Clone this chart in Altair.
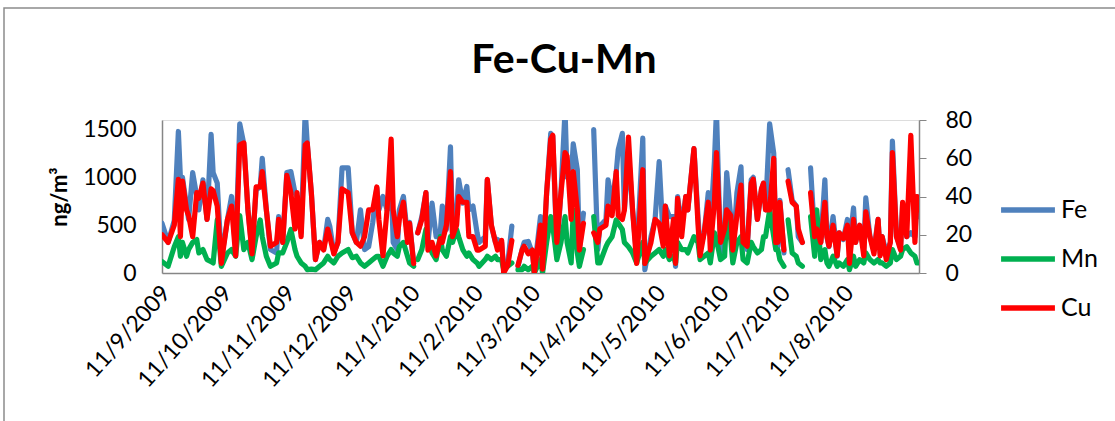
import altair as alt
import pandas as pd

# day offsets from 11/9/2009 (None rows mark gaps in the record)
days = [0, 3, 6, 8, 9, 10, 12, 13, 15, 17, 18, 20, 22, 24, 25, 27, 29, 32, 34, 36,
        38, 40, 42, 44, 46, 48, 49, 51, 53, 56, 57, 59, 61, 63, 65, 66, 68, 70, 71, 73,
        75, 77, 79, 81, 82, 84, 86, 88, 91, 93, 95, 97, 99, 101, 103, 105, 106, 108, 110, 112,
        113, 115, 116, 118, 120, 121, 123, 124, 125, 127, 129, 130, 132, 134, 136, 137, 139, 141, 142, 144,
        145, 147, 149, 150, 152, 154, 155, 158, 159, 161, 163, 164, 166, 167, 169, 171, 172, 174, 176, 177,
        179, 181, 182, 185, 186, 188, 190, 191, 193, 195, 197, 198, 200, 201, 203, 204, 206, 208, 211, 213,
        214, 217, 218, 220, 222, 223, 225, 226, 228, 230, 232, 235, 236, 239, 241, 243, 245, 246, 248, 250,
        251, 252, 254, 256, 257, 260, 262, 263, 265, 267, 268, 270, 271, 273, 275, 276, 278, 279, 281, 283,
        284, 286, 288, 289, 291, 293, 294, 295, 297, 299, 300, 301, 302, 304, 305, 306, 308, 310, 311, 313,
        315, 317, 319, 320, 322, 324, 325, 326, 328, 330, 331, 333, 335, 336, 338, 339, 341, 343, 344, 346,
        348, 350, 351, 352, 354, 356, 357, 359, 361, 362, 364, 366, 368, 369, 370]

fe = [520, 320, 550, 1480, 1000, 1000, 700, 560, 1050, 800, 660, 975, 560, 1450, 1050, 940, 140, 560, 800, 245,
      1560, 1350, 660, 245, 870, 900, 1200, 660, 245, 210, 590, 320, 1050, 1060, 840, 800, 420, 1700, 1350, 840,
      140, 320, 245, 560, 490, 210, 320, 1100, 1100, 420, 320, 660, 245, 275, 530, 890, 660, 800, 660, 1000,
      320, 245, 660, 800, 380, 530, 105, None, 420, 590, 840, 320, 730, 380, 420, 700, 455, 1320, 380, 660,
      975, 730, 905, 660, 700, 420, 320, 380, 975, 490, 320, 350, 320, 35, 105, 490, None, 70, 245, 320,
      330, 210, 35, 590, 35, 840, 1460, 1430, 245, 840, 1700, 1000, 975, 1350, 1080, 245, 625, None, 1500, 245,
      490, 560, 975, 730, 1050, 1290, 1460, 660, 1250, 660, 175, 1410, 35, 380, 560, 1165, 350, 700, 590, 590,
      70, 800, 490, 800, 660, 1300, 590, 245, 420, 840, 455, 1165, 1700, 210, 455, 1050, 590, 170, 840, 1110,
      380, 245, 975, 1000, 560, 870, 940, 660, 1560, 1250, 320, 275, 760, 210, None, 1080, 760, 700, 380, 320,
      None, 1100, 380, 490, 320, 975, 380, 275, 590, 175, 420, 350, 560, 275, 680, 320, 490, 245, 785, 380,
      245, 560, 210, 380, 210, 320, 1380, 380, 275, 730, 380, 420, 380, 800, 590]

mn = [120, 70, 275, 380, 175, 320, 175, 245, 320, 350, 210, 245, 140, 120, 105, 555, 70, 210, 245, 175,
      600, 245, 320, 140, 380, 555, 380, 175, 70, 105, 210, 210, 320, 455, 245, 175, 105, 70, 35, 40,
      35, 70, 105, 175, 140, 105, 175, 210, 245, 160, 175, 105, 70, 105, 140, 175, 175, 70, 175, 245,
      210, 175, 275, 320, 175, 105, 70, None, 140, 245, 455, 320, 210, 140, 380, 245, 175, 380, 320, 455,
      380, 245, 175, 210, 140, 105, 70, 140, 175, 140, 175, 140, 140, 35, 70, 105, None, 35, 35, 70,
      35, 70, 0, 140, 0, 320, 590, 490, 140, 320, 590, 320, 105, 660, 210, 70, 245, None, 590, 105,
      105, 275, 320, 380, 555, 520, 455, 320, 275, 210, 105, 320, 105, 175, 210, 245, 175, 245, 140, 175,
      105, 320, 245, 245, 210, 380, 320, 140, 175, 210, 105, 420, 350, 140, 175, 625, 350, 105, 320, 380,
      140, 105, 320, 275, 210, 245, 380, 380, 660, 380, 245, 245, 140, 70, None, 555, 210, 175, 105, 70,
      None, 590, 175, 660, 140, 245, 105, 70, 175, 70, 105, 70, 140, 35, 175, 70, 140, 105, 210, 140,
      105, 140, 105, 105, 70, 105, 245, 140, 175, 245, 275, 210, 175, 105, 105]

cu = [20, 16, 25, 49, 19, 48, 33, 30, 19, 42, 39, 47, 28, 44, 43, 35, 5, 28, 35, 9,
      67, 68, 33, 10, 45, 45, 53, 33, 14, 16, 28, 16, 51, 42, 23, 42, 19, 67, 68, 42,
      7, 16, 12, 23, 19, 10, 16, 44, 42, 21, 16, 14, 19, 33, 33, 45, 28, 9, 33, 70,
      33, 19, 28, 37, 16, 26, 5, None, 21, 28, 42, 12, 16, 9, 18, 16, 25, 53, 19, 25,
      40, 37, 37, 19, 19, 12, 12, 14, 49, 25, 16, 12, 17, 0, 4, 17, None, 4, 12, 14,
      10, 12, 0, 25, 2, 42, 70, 72, 16, 42, 63, 61, 28, 53, 33, 12, 26, None, 21, 16,
      23, 25, 35, 30, 53, 30, 28, 33, 71, 33, 5, 54, 5, 16, 28, 26, 14, 35, 9, 28,
      5, 39, 19, 40, 33, 65, 25, 9, 21, 37, 12, 37, 63, 16, 23, 33, 30, 12, 30, 46,
      16, 14, 47, 49, 28, 44, 47, 33, 33, 60, 16, 16, 37, 12, None, 48, 37, 35, 23, 16,
      None, 42, 19, 23, 16, 37, 19, 14, 25, 9, 21, 18, 25, 5, 28, 16, 25, 9, 32, 19,
      10, 28, 9, 19, 7, 16, 63, 19, 12, 37, 19, 72, 16, 40, 33]

series_names = ["Fe", "Mn", "Cu"]
series_colors = ["#4F81BD", "#00B050", "#FF0000"]
tick_months = [(2009, 9), (2009, 10), (2009, 11), (2009, 12), (2010, 1), (2010, 2),
               (2010, 3), (2010, 4), (2010, 5), (2010, 6), (2010, 7), (2010, 8)]
chart_title = "Fe-Cu-Mn"

start = pd.Timestamp("2009-09-11")
df = pd.DataFrame({
    "date": [start + pd.Timedelta(days=d) for d in days],
    "Fe": fe, "Mn": mn, "Cu": cu,
})

FONT = "Lato"
x_enc = alt.X(
    "date:T",
    scale=alt.Scale(domain=[alt.DateTime(year=2009, month=9, date=11),
                            alt.DateTime(year=2010, month=9, date=16)], nice=False),
    axis=alt.Axis(
        title=None, format="%-d/%-m/%Y", labelAngle=-48, labelAlign="right",
        labelBaseline="middle", labelPadding=16, labelOffset=4, labelFontSize=23, labelFont=FONT,
        labelColor="black", domainColor="#868686", domainWidth=1.5, ticks=False,
        grid=False, labelOverlap=False,
        values=[alt.DateTime(year=y, month=m, date=11) for y, m in tick_months],
    ),
)

color_scale = alt.Scale(domain=series_names, range=series_colors)
color_legend = alt.Legend(
    title=None, orient="none", legendX=836, legendY=60, symbolType="stroke",
    symbolSize=2900, symbolStrokeWidth=5.5, labelFontSize=25, labelFont=FONT,
    labelColor="black", labelOffset=3, rowPadding=6,
)
color_enc = alt.Color("series:N", scale=color_scale, legend=color_legend)

line_kw = dict(strokeWidth=5.2, strokeJoin="round", strokeCap="round", clip=True,
               invalid="break-paths-filter-domains")

deco = alt.Chart(pd.DataFrame({"title": [chart_title]}))
# chart-area frame (decoration around the whole chart)
frame = deco.mark_rect(fill=None, stroke="#8c8c8c", strokeWidth=1.5, clip=False).encode(
    x=alt.value(-158), y=alt.value(-112), x2=alt.value(980), y2=alt.value(320)
)
# chart title
title_text = deco.mark_text(
    font=FONT, fontSize=41, fontWeight="bold", color="black",
    align="center", baseline="alphabetic", clip=False
).encode(text="title:N", x=alt.value(402), y=alt.value(-47))

base = alt.Chart(df)
fe_line = base.transform_calculate(series="'Fe'").mark_line(**line_kw).encode(
    x=x_enc,
    y=alt.Y("Fe:Q", scale=alt.Scale(domain=[0, 1600], nice=False),
            axis=alt.Axis(title="ng/m³", values=[0, 500, 1000, 1500], format="d",
                          orient="left",
                          labelFontSize=23, labelFont=FONT, labelColor="black",
                          labelPadding=26, ticks=False, grid=False,
                          domainColor="#868686", domainWidth=1.5,
                          titleFont=FONT, titleFontSize=22, titleFontWeight="bold",
                          titleColor="black", titlePadding=11)),
    color=color_enc,
)
mn_line = base.transform_calculate(series="'Mn'").mark_line(**line_kw).encode(
    x=alt.X("date:T"),
    y=alt.Y("Mn:Q", scale=alt.Scale(domain=[0, 1600], nice=False), axis=None),
    color=color_enc,
)
cu_line = base.transform_calculate(series="'Cu'").mark_line(**line_kw).encode(
    x=alt.X("date:T"),
    y=alt.Y("Cu:Q", scale=alt.Scale(domain=[0, 80], nice=False),
            axis=alt.Axis(title=None, values=[0, 20, 40, 60, 80], orient="right",
                          labelFontSize=23, labelFont=FONT, labelColor="black",
                          tickSize=7, tickColor="#868686", labelPadding=19, grid=False,
                          domainColor="#868686", domainWidth=1.5)),
    color=color_enc,
)

chart = alt.layer(frame, title_text, fe_line, mn_line, cu_line).resolve_scale(
    y="independent"
).properties(
    width=757, height=153,
    autosize=alt.AutoSizeParams(type="none"),
    padding={"left": 162, "top": 120, "right": 196, "bottom": 148},
).configure_view(stroke=None).configure(background="white")

chart.save("out.html", embed_options={"renderer": "svg", "actions": False})
